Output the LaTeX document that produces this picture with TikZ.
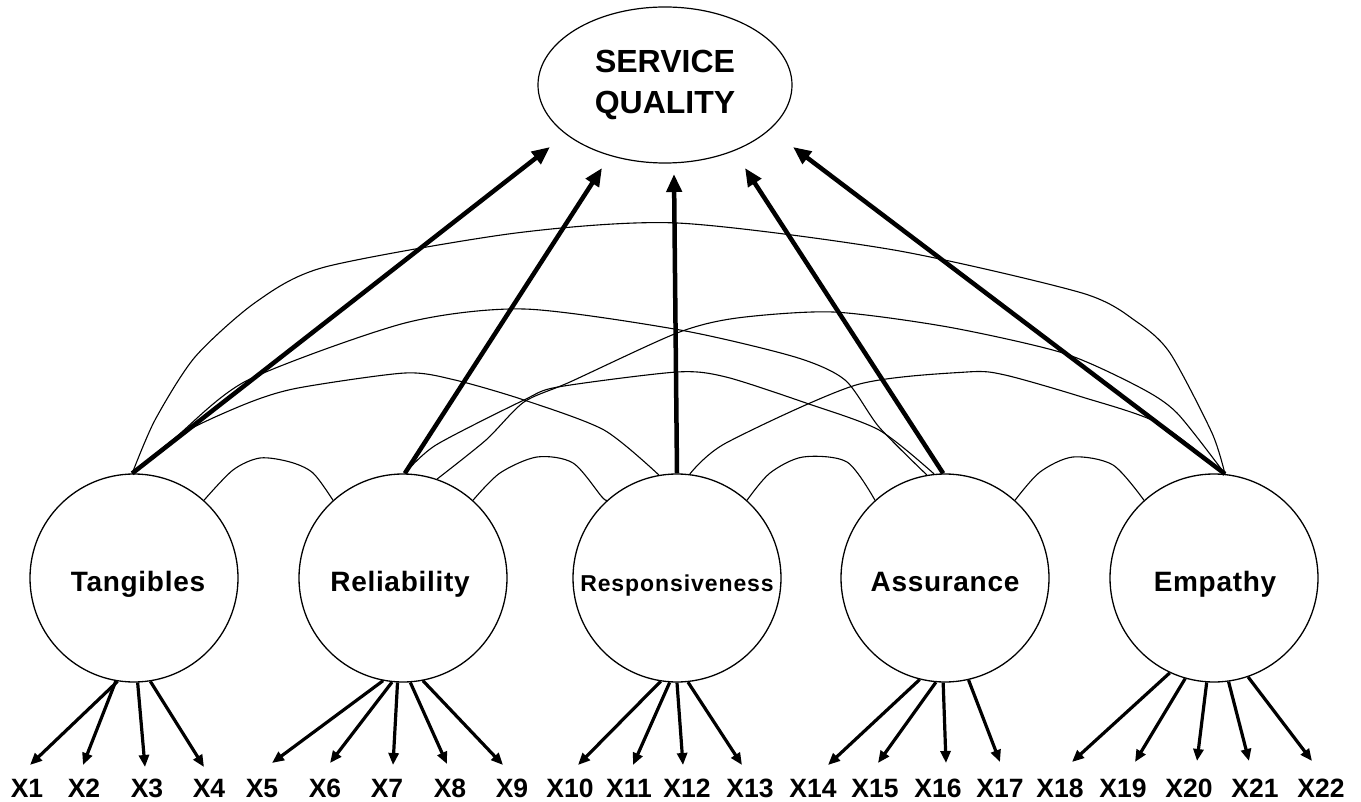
\documentclass[tikz,border=0pt]{standalone}
\usepackage{fontspec}
\setmainfont{Liberation Sans}
\usetikzlibrary{arrows.meta,shapes.geometric}
\begin{document}
\begin{tikzpicture}[x=1pt,y=-1pt,
  lat/.style={circle,draw,line width=1.3pt,minimum size=208pt,inner sep=0pt},
  latlabel/.style={anchor=base,inner sep=0pt,font=\fontsize{28}{30}\selectfont\bfseries\addfontfeature{LetterSpace=2.5}},
  obs/.style={anchor=base,inner sep=0pt,font=\fontsize{26.5}{28}\selectfont\bfseries},
  pathar/.style={line width=4.5pt,-{Triangle[length=18pt,width=15pt]}},
  load/.style={line width=3.2pt,-{Triangle[length=12pt,width=10pt]}},
  cov/.style={line width=1.1pt}]
\useasboundingbox (0,0) rectangle (1361,802);

% outcome
\node[ellipse,draw,line width=1.2pt,minimum width=254pt,minimum height=156pt,inner sep=0pt,
      align=center,font=\fontsize{32}{41}\selectfont\bfseries] (SQ) at (665,85) {SERVICE\\QUALITY};

% latent factors
\node[lat] (T) at (134,578) {};
\node[lat] (R) at (403,578) {};
\node[lat] (P) at (677,578) {};
\node[lat] (A) at (945,578) {};
\node[lat] (E) at (1214,578) {};
\node[latlabel] (Tl) at (138,591) {Tangibles};
\node[latlabel,font=\fontsize{23}{25}\selectfont\bfseries\addfontfeature{LetterSpace=4}] (Pl) at (677,591) {Responsiveness};
\node[latlabel] (Rl) at (400,591) {Reliability};
\node[latlabel] (Al) at (945,591) {Assurance};
\node[latlabel] (El) at (1215,591) {Empathy};

% indicators
\foreach \n/\x in {1/27,2/84,3/147,4/209,5/262,6/325,7/387,8/450,9/512,10/570,11/629,
                   12/687,13/750,14/813,15/875,16/938,17/1000,18/1060,19/1123,20/1189,21/1255,22/1321}
  \node[obs] (X\n) at (\x,797) {X\n};

% arrow tips
\foreach \n/\x/\y in {1/30/765,2/83/765,3/145/767,4/204/767,5/272/763,6/330/763,7/393/765,
                      8/447/764,9/503/765,10/578/765,11/633/765,12/683/765,13/742/765,14/828/765,
                      15/878/763,16/946/763,17/1000/762,18/1072/762,19/1135/762,20/1197/761,
                      21/1249/761,22/1312/761}
  \coordinate (t\n) at (\x,\y);
\coordinate (s1) at (550,147);
\coordinate (s2) at (602,168);
\coordinate (s3) at (674,174);
\coordinate (s4) at (745,168);
\coordinate (s5) at (793,147);

% correlations between adjacent factors
\draw[cov] plot[smooth,tension=0.5] coordinates {(T.48) (233,470) (260,458) (290,462) (313,473) (R.132)};
\draw[cov] plot[smooth,tension=0.5] coordinates {(R.48) (500,473) (537,457) (573,463) (602,497) (P.132)};
\draw[cov] plot[smooth,tension=0.5] coordinates {(P.48) (770,473) (803,457) (847,462) (A.132)};
\draw[cov] plot[smooth,tension=0.5] coordinates {(A.48) (1040,472) (1073,457) (1113,465) (E.132)};

% longer correlations
\draw[cov] plot[smooth,tension=0.45] coordinates {(T.91) (155,420) (195,357) (256,302) (325,267) (516,233) (677,223) (894,250) (1082,293) (1137,322) (1170,353) (1212,433) (E.84)};
\draw[cov] plot[smooth,tension=0.45] coordinates {(T.91) (176,437) (248,380) (405,323) (524,309) (680,330) (795,357) (845,380) (879,427) (A.100)};
\draw[cov] plot[smooth,tension=0.45] coordinates {(T.91) (183,433) (248,403) (298,388) (405,373) (455,380) (524,400) (604,430) (P.100)};
\draw[cov] plot[smooth,tension=0.45] coordinates {(R.89) (436,445) (524,400) (558,387) (677,372) (726,377) (806,403) (879,430) (A.96)};
\draw[cov] plot[smooth,tension=0.45] coordinates {(R.71) (486,440) (524,402) (570,382) (677,333) (737,318) (833,312) (948,327) (1063,353) (1139,387) (1177,413) (E.84)};
\draw[cov] plot[smooth,tension=0.45] coordinates {(P.83) (726,443) (856,385) (967,372) (1005,375) (1082,397) (1158,423) (E.84)};

% structural paths
\draw[pathar] (T.91) -- (s1);
\draw[pathar] (R.89) -- (s2);
\draw[pathar] (P.90) -- (s3);
\draw[pathar] (A.91) -- (s4);
\draw[pathar] (E.84) -- (s5);

% loadings
\draw[load] (T.-99) -- (t1);
\draw[load] (T.-100) -- (t2);
\draw[load] (T.-88) -- (t3);
\draw[load] (T.-81) -- (t4);
\draw[load] (R.-101) -- (t5);
\draw[load] (R.-96) -- (t6);
\draw[load] (R.-93) -- (t7);
\draw[load] (R.-86) -- (t8);
\draw[load] (R.-79) -- (t9);
\draw[load] (P.-99) -- (t10);
\draw[load] (P.-94) -- (t11);
\draw[load] (P.-90) -- (t12);
\draw[load] (P.-84) -- (t13);
\draw[load] (A.-104) -- (t14);
\draw[load] (A.-95) -- (t15);
\draw[load] (A.-91) -- (t16);
\draw[load] (A.-77) -- (t17);
\draw[load] (E.-115) -- (t18);
\draw[load] (E.-106) -- (t19);
\draw[load] (E.-94) -- (t20);
\draw[load] (E.-82) -- (t21);
\draw[load] (E.-71) -- (t22);
\end{tikzpicture}
\end{document}
